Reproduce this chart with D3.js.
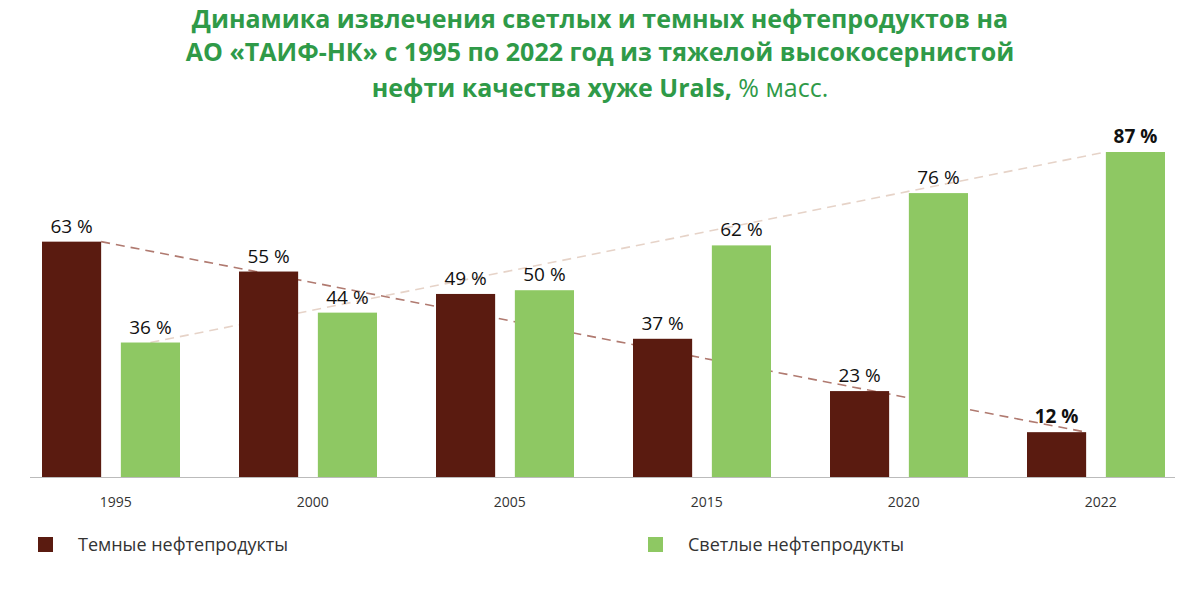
<!DOCTYPE html>
<html><head><meta charset="utf-8">
<script src="https://cdn.jsdelivr.net/npm/d3@7"></script>
<style>body{margin:0;background:#fff}text{font-family:"Open Sans",Roboto,sans-serif}</style>
</head><body><svg width="1200" height="600"></svg>
<script>
const years=["1995","2000","2005","2015","2020","2022"];
const dark=[63,55,49,37,23,12];
const light=[36,44,50,62,76,87];
const boldLabel=[false,false,false,false,false,true];

const svg=d3.select("svg");
const green="#2f9a48";
const title=svg.append("text").attr("text-anchor","middle").attr("font-size",25).attr("font-weight",700).attr("fill",green);
title.append("tspan").attr("x",600).attr("y",28).text("Динамика извлечения светлых и темных нефтепродуктов на");
title.append("tspan").attr("x",600).attr("y",61).text("АО «ТАИФ-НК» с 1995 по 2022 год из тяжелой высокосернистой");
const l3=title.append("tspan").attr("x",600).attr("y",97);
l3.append("tspan").text("нефти качества хуже Urals, ");
l3.append("tspan").attr("font-weight",400).text("% масс.");

const x0=d3.scaleBand().domain(years).range([30,1212]).paddingInner(0);
const x1=d3.scaleBand().domain(["d","l"]).range([12,150]).paddingInner(0.25);
const y=d3.scaleLinear().domain([0,87]).range([477,152]);
const cDark="#5a1b10",cLight="#8ec863";

const dl=d3.line();
svg.append("path").attr("d",dl([[x0(years[0])+x1("d")+x1.bandwidth(),y(dark[0])],[x0(years[5])+x1("d")+x1.bandwidth(),y(dark[5])]]))
 .attr("stroke","#b07a70").attr("stroke-width",1.6).attr("stroke-dasharray","9,6").attr("fill","none");
svg.append("path").attr("d",dl([[x0(years[0])+x1("l")+x1.bandwidth()/2,y(light[0])],[x0(years[5])+x1("l"),y(light[5])]]))
 .attr("stroke","#e6d3c8").attr("stroke-width",1.6).attr("stroke-dasharray","9,6").attr("fill","none");

years.forEach((yr,i)=>{
  const g=svg.append("g").attr("transform",`translate(${x0(yr)},0)`);
  [["d",dark[i],cDark],["l",light[i],cLight]].forEach(([k,v,c])=>{
    g.append("rect").attr("x",x1(k)).attr("y",y(v)).attr("width",x1.bandwidth()).attr("height",y(0)-y(v)).attr("fill",c);
    g.append("text").attr("x",x1(k)+x1.bandwidth()/2).attr("y",y(v)-9).attr("text-anchor","middle")
     .attr("font-size",19).attr("font-weight",boldLabel[i]?700:400).attr("fill","#111").text(v+" %");
  });
});
svg.append("line").attr("x1",30).attr("x2",1175).attr("y1",477.5).attr("y2",477.5).attr("stroke","#bbb");
const ax=svg.append("g").attr("transform","translate(0,477)").call(d3.axisBottom(x0).tickSize(0).tickPadding(20)
  .tickFormat(d=>d)).call(g=>g.select(".domain").remove());
ax.selectAll("text").attr("font-size",14).attr("fill","#333");
ax.selectAll(".tick").attr("transform",d=>`translate(${x0(d)+x1("l")-5},0)`);

const leg=[["Темные нефтепродукты",cDark,38],["Светлые нефтепродукты",cLight,648]];
leg.forEach(([t,c,x])=>{
  svg.append("rect").attr("x",x).attr("y",537).attr("width",15).attr("height",15).attr("fill",c);
  svg.append("text").attr("x",x+40).attr("y",551).attr("font-size",18).attr("fill","#333").text(t);
});
</script></body></html>
